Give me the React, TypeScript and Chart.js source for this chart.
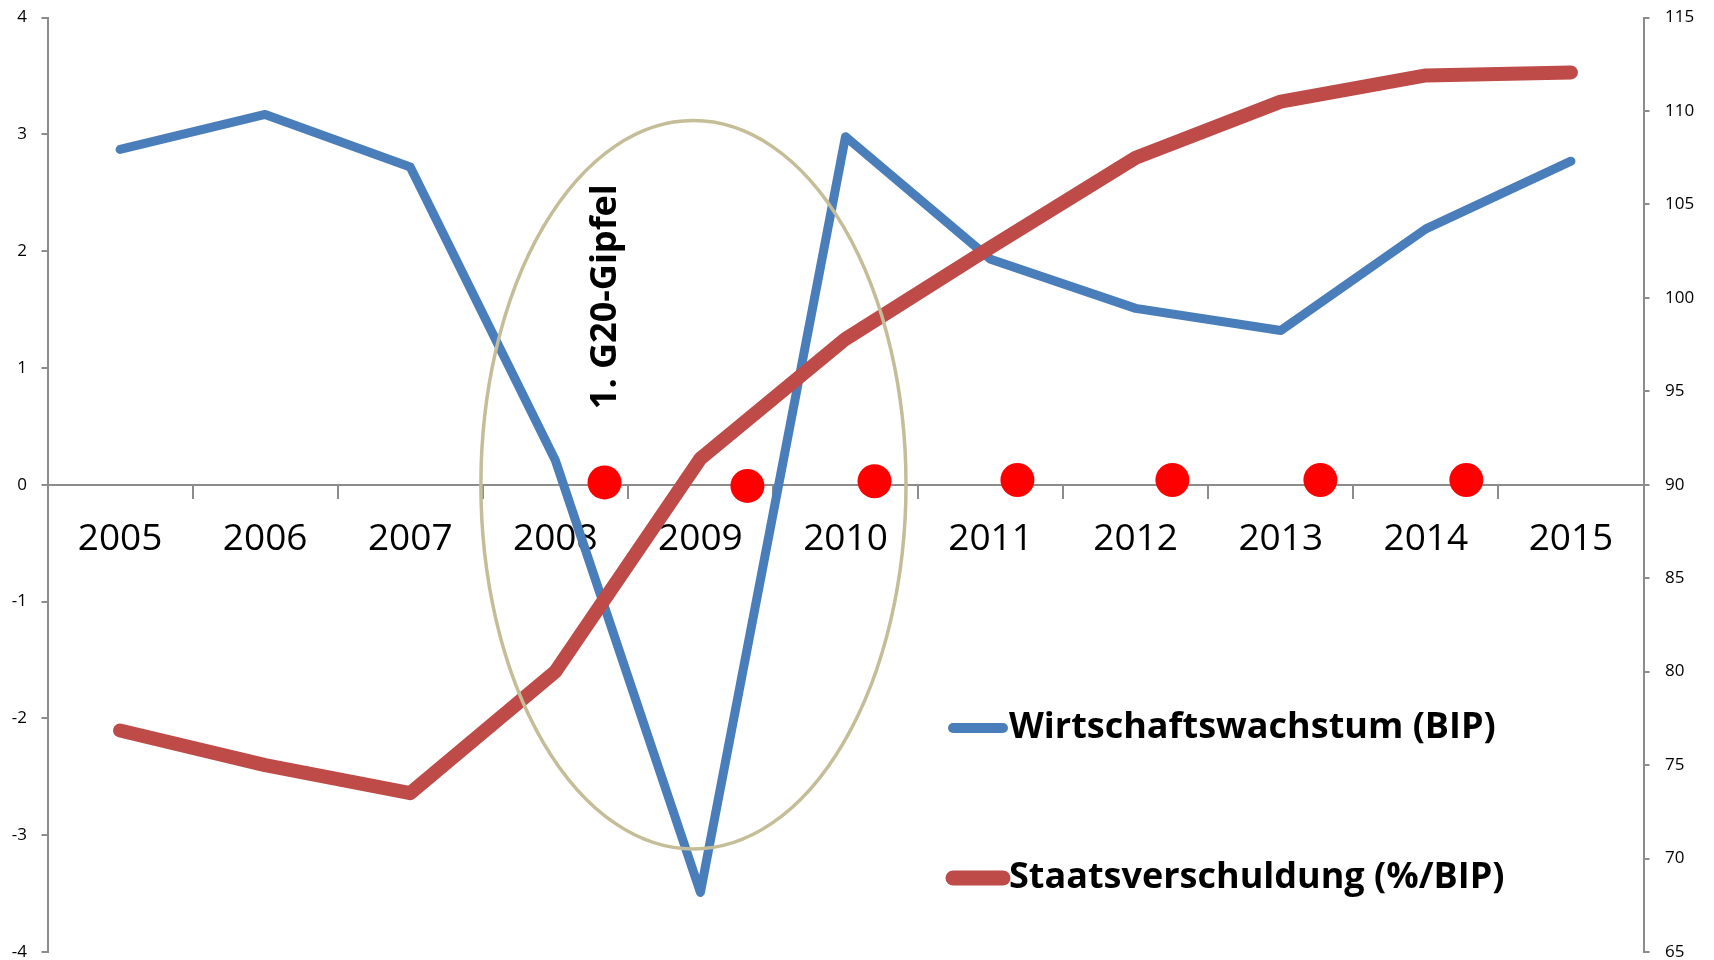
import { useEffect, useRef } from 'react';
import { Chart, registerables } from 'chart.js';

Chart.register(...registerables);

// ---- data ----
const years = ['2005', '2006', '2007', '2008', '2009', '2010', '2011', '2012', '2013', '2014', '2015'];
const wachstum = [2.87, 3.17, 2.72, 0.21, -3.49, 2.98, 1.93, 1.51, 1.32, 2.19, 2.77];
const verschuldung = [76.85, 75.0, 73.5, 80.0, 91.4, 97.8, 102.7, 107.5, 110.5, 111.9, 112.06];
// G20 summit markers: position in category index units, value on the left axis
const gipfelX = [3.339, 4.324, 5.2, 6.185, 7.253, 8.273, 9.279];
const gipfelY = [0.02, -0.01, 0.03, 0.04, 0.04, 0.04, 0.04];
const seriesLabels = ['Wirtschaftswachstum (BIP)', 'Staatsverschuldung (%/BIP)'];
const annotationText = '1. G20-Gipfel';

const AXIS_GRAY = '#8c8c8c';
const BLUE = '#4a7ebb';
const RED = '#be4b48';

const overlayPlugin = {
  id: 'overlay',
  afterDatasetsDraw(chart: any, _args: any, opts: any) {
    const ctx = chart.ctx;
    const xs = chart.scales.x2;
    const ys = chart.scales.y;
    const e = opts.ellipse;
    const cx = xs.getPixelForValue(e.cx);
    const cy = ys.getPixelForValue(e.cy);
    const rx = xs.getPixelForValue(e.cx + e.rx) - cx;
    const ry = cy - ys.getPixelForValue(e.cy + e.ry);
    ctx.save();
    ctx.beginPath();
    ctx.ellipse(cx, cy, rx, ry, 0, 0, Math.PI * 2);
    ctx.strokeStyle = e.color;
    ctx.lineWidth = e.width;
    ctx.stroke();
    ctx.restore();

    const t = opts.text;
    const tx = xs.getPixelForValue(t.x);
    const ty = ys.getPixelForValue(t.y);
    ctx.save();
    ctx.translate(tx, ty);
    ctx.rotate(-Math.PI / 2);
    ctx.font = t.font;
    ctx.fillStyle = '#000';
    ctx.textAlign = 'center';
    ctx.textBaseline = 'alphabetic';
    ctx.fillText(t.label, 0, 0);
    ctx.restore();
  },
  afterDraw(chart: any, _args: any, opts: any) {
    const ctx = chart.ctx;
    const lg = opts.legend;
    lg.items.forEach((it: any) => {
      const ds = chart.data.datasets[it.dataset];
      ctx.save();
      ctx.beginPath();
      ctx.moveTo(lg.x1, it.y);
      ctx.lineTo(lg.x2, it.y);
      ctx.strokeStyle = ds.borderColor;
      ctx.lineWidth = it.width;
      ctx.lineCap = 'round';
      ctx.stroke();
      ctx.font = lg.font;
      ctx.fillStyle = '#000';
      ctx.textAlign = 'left';
      ctx.textBaseline = 'middle';
      ctx.fillText(ds.label, lg.textX, it.y);
      ctx.restore();
    });
  },
};

const noPad = (s: any) => {
  s.paddingTop = 0;
  s.paddingBottom = 0;
  s.paddingLeft = 0;
  s.paddingRight = 0;
};

export default function App() {
  const ref = useRef<HTMLCanvasElement | null>(null);

  useEffect(() => {
    if (!ref.current) return;
    const chart = new Chart(ref.current, {
      type: 'line',
      data: {
        labels: years,
        datasets: [
          {
            type: 'scatter',
            label: 'G20',
            data: gipfelX.map((x, i) => ({ x, y: gipfelY[i] })),
            xAxisID: 'x2',
            yAxisID: 'y',
            pointRadius: 17,
            pointHoverRadius: 17,
            pointBackgroundColor: '#ff0000',
            pointBorderWidth: 0,
            borderColor: '#ff0000',
            showLine: false,
          } as any,
          {
            label: seriesLabels[1],
            data: verschuldung,
            yAxisID: 'y1',
            xAxisID: 'x',
            borderColor: RED,
            backgroundColor: RED,
            borderWidth: 14,
            pointRadius: 0,
            tension: 0,
            borderCapStyle: 'round',
            borderJoinStyle: 'round',
          },
          {
            label: seriesLabels[0],
            data: wachstum,
            yAxisID: 'y',
            xAxisID: 'x',
            borderColor: BLUE,
            backgroundColor: BLUE,
            borderWidth: 9,
            pointRadius: 0,
            tension: 0,
            borderCapStyle: 'round',
            borderJoinStyle: 'round',
          },
        ],
      },
      options: {
        animation: false,
        responsive: false,
        devicePixelRatio: 1,
        layout: { padding: { top: 17.5, bottom: 10, left: 0, right: 0 } },
        plugins: {
          legend: { display: false },
          tooltip: { enabled: false },
          overlay: {
            ellipse: { cx: 3.952, cy: 0.0, rx: 1.465, ry: 3.118, color: '#c4bd97', width: 3.5 },
            text: { x: 3.415, y: 1.61, label: annotationText, font: 'bold 36px "Open Sans"' },
            legend: {
              x1: 953,
              x2: 1003,
              textX: 1009,
              font: 'bold 36px "Open Sans"',
              items: [
                { dataset: 2, y: 728, width: 10 },
                { dataset: 1, y: 878, width: 15 },
              ],
            },
          },
        } as any,
        scales: {
          x: {
            type: 'category',
            position: { y: 0 } as any,
            offset: true,
            afterFit: (s: any) => { s.height = 0; noPad(s); },
            grid: {
              display: true,
              drawOnChartArea: false,
              drawTicks: true,
              tickLength: 13,
              offset: true,
              color: AXIS_GRAY,
              lineWidth: 2,
            },
            border: { display: true, color: AXIS_GRAY, width: 2 },
            ticks: {
              autoSkip: false,
              maxRotation: 0,
              padding: 20,
              color: '#000',
              font: { family: 'Open Sans', size: 37, lineHeight: 1.2 },
            },
          },
          x2: {
            type: 'linear',
            display: false,
            min: -0.5,
            max: 10.5,
            ticks: { display: false },
            grid: { display: false },
            border: { display: false },
            afterFit: (s: any) => { s.height = 0; noPad(s); },
          },
          y: {
            type: 'linear',
            position: 'left',
            min: -4,
            max: 4,
            afterFit: (s: any) => { s.width = 47.5; noPad(s); },
            ticks: {
              stepSize: 1,
              padding: 14.5,
              color: '#000',
              font: { family: 'Open Sans', size: 17 },
            },
            grid: { drawOnChartArea: false, drawTicks: true, tickLength: 6, color: AXIS_GRAY, lineWidth: 2 },
            border: { display: true, color: AXIS_GRAY, width: 2 },
          },
          y1: {
            type: 'linear',
            position: 'right',
            min: 65,
            max: 115,
            afterFit: (s: any) => { s.width = 70.5; noPad(s); },
            ticks: {
              stepSize: 5,
              padding: 15.5,
              color: '#000',
              font: { family: 'Open Sans', size: 17 },
            },
            grid: { drawOnChartArea: false, drawTicks: true, tickLength: 6, color: AXIS_GRAY, lineWidth: 2 },
            border: { display: true, color: AXIS_GRAY, width: 2 },
          },
        },
      },
      plugins: [overlayPlugin as any],
    });
    return () => chart.destroy();
  }, []);

  return (
    <div style={{ position: 'absolute', left: 0, top: 0, width: 1714, height: 960, overflow: 'hidden', background: '#fff' }}>
      <canvas ref={ref} width={1714} height={969} style={{ display: 'block' }} />
    </div>
  );
}
